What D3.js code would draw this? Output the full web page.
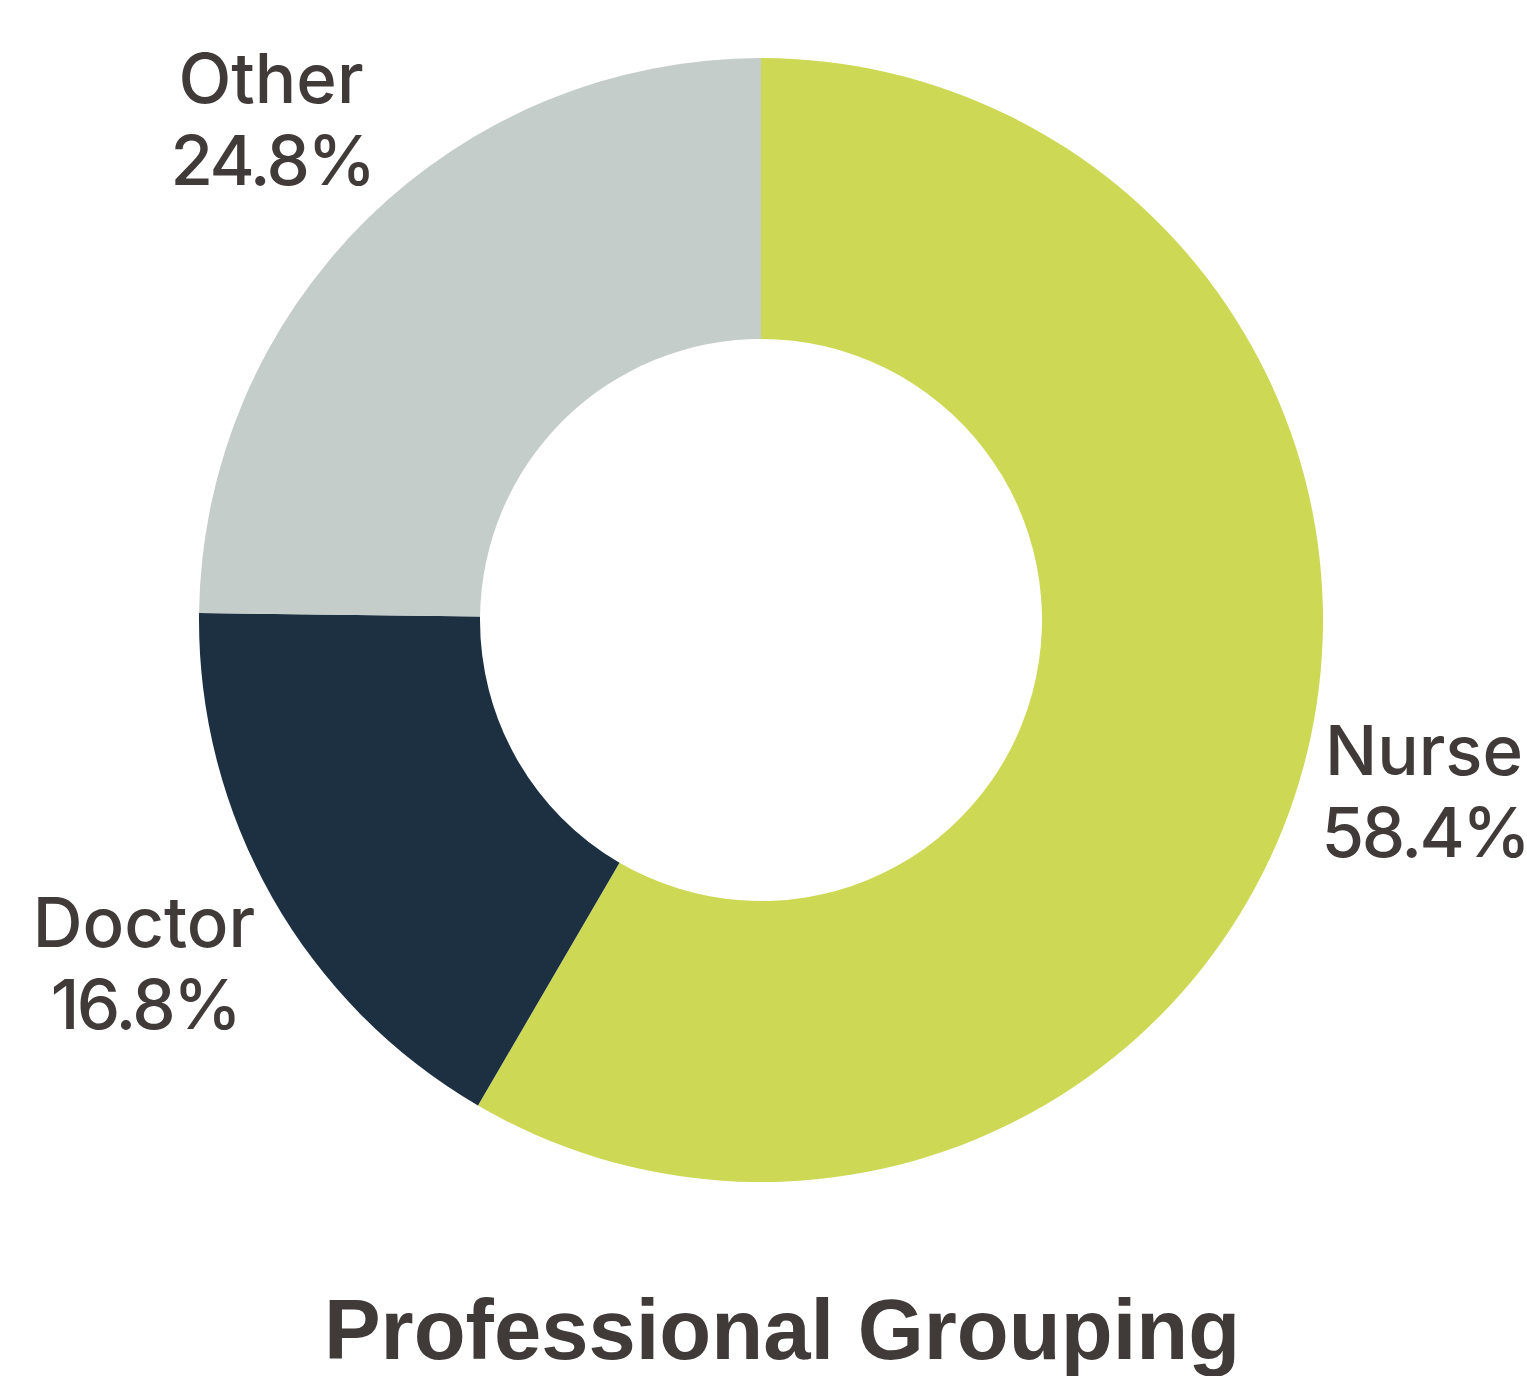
<!DOCTYPE html>
<html>
<head>
<meta charset="utf-8">
<script src="https://cdn.jsdelivr.net/npm/d3@7"></script>
<style>
  body { margin: 0; background: #fff; }
  text { fill: #403b39; }
</style>
</head>
<body>
<div id="chart"></div>
<script>
const categories = ['Nurse', 'Doctor', 'Other'];
const values = [58.4, 16.8, 24.8];
const colors = ['#cdd855', '#1d3042', '#c5cdcb'];
const title = 'Professional Grouping';

// label anchor positions (centre x, first baseline y)
const label_pos = [[1424, 775], [144, 947], [271, 103]];

const chart_width = 1527;
const chart_height = 1376;
const cx = 761;
const cy = 620;
const outer_r = 562;
const inner_r = 281;

const svg = d3.select('#chart')
    .append('svg')
    .attr('width', chart_width)
    .attr('height', chart_height);

const pie = d3.pie().sort(null).value(d => d.value);
const arc = d3.arc().innerRadius(inner_r).outerRadius(outer_r);

const data = categories.map((c, i) => ({ name: c, value: values[i], color: colors[i] }));

svg.append('g')
    .attr('transform', `translate(${cx}, ${cy})`)
    .selectAll('path')
    .data(pie(data))
    .enter()
    .append('path')
    .attr('d', arc)
    .attr('fill', d => d.data.color);

// Labels
const labels = svg.append('g')
    .selectAll('text')
    .data(data)
    .enter()
    .append('text')
    .attr('text-anchor', 'middle')
    .attr('font-family', 'Inter, Liberation Sans, sans-serif')
    .attr('font-weight', 500)
    .attr('font-size', 69);

labels.append('tspan')
    .attr('x', (d, i) => label_pos[i][0])
    .attr('y', (d, i) => label_pos[i][1])
    .text(d => d.name);

labels.append('tspan')
    .attr('x', (d, i) => label_pos[i][0] + 1)
    .attr('y', (d, i) => label_pos[i][1] + 82)
    .attr('letter-spacing', -2.5)
    .text(d => d.value.toFixed(1) + '%');

// Title
svg.append('text')
    .attr('x', 782)
    .attr('y', 1359)
    .attr('text-anchor', 'middle')
    .attr('font-family', 'Liberation Sans, Arial, sans-serif')
    .attr('font-weight', 'bold')
    .attr('font-size', 85)
    .text(title);
</script>
</body>
</html>
